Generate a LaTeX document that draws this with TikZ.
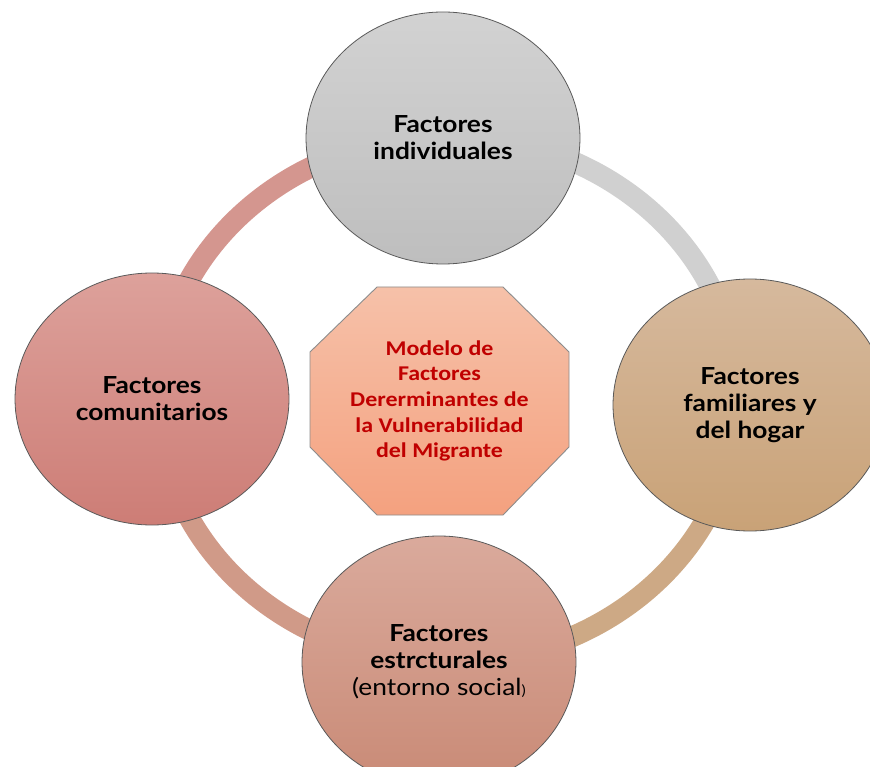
\documentclass[tikz,border=0pt]{standalone}
\usepackage{fontspec}
\setmainfont{Lato}
\newfontfamily\calib{Carlito}
\usetikzlibrary{shapes.geometric}
\definecolor{ringA}{HTML}{D4968F}
\definecolor{ringB}{HTML}{D0D0D0}
\definecolor{ringC}{HTML}{CDA985}
\definecolor{ringD}{HTML}{D09A88}
\definecolor{octred}{HTML}{C00000}
\definecolor{edge}{HTML}{5A5A5A}
\definecolor{octtop}{HTML}{F6C1A9}
\definecolor{octbot}{HTML}{F4A17F}
\tikzset{
  factor/.style={ellipse, draw=edge, line width=0.8pt, xscale=1.12, transform shape,
    minimum width=244.6pt, minimum height=252pt,
    align=center, inner sep=0pt, font=\bfseries\fontsize{23.5}{27}\selectfont},
  ringarc/.style={line width=21pt},
  octbox/.style={draw=black!45, line width=0.9pt, top color=octtop, bottom color=octbot},
  octtext/.style={align=center, text=octred, xscale=1.14, transform shape,
    font=\calib\bfseries\fontsize{21}{25.7}\selectfont},
}
\begin{document}
\begin{tikzpicture}[x=1pt,y=-1pt]
\useasboundingbox (0,0) rectangle (870,767);
\fill[white] (0,0) rectangle (870,767);
\clip (0,0) rectangle (870,767);
\coordinate (ringc) at (448,399);
% ring segments
\draw[ringarc, ringA] (ringc) ++(180:290 and 263) arc[start angle=180, end angle=270, x radius=290, y radius=263];
\draw[ringarc, ringB] (ringc) ++(270:290 and 263) arc[start angle=270, end angle=360, x radius=290, y radius=263];
\draw[ringarc, ringC] (ringc) ++(0:290 and 263) arc[start angle=0, end angle=90, x radius=290, y radius=263];
\draw[ringarc, ringD] (ringc) ++(90:290 and 263) arc[start angle=90, end angle=180, x radius=290, y radius=263];
% factor nodes
\node[factor, top color={rgb,255:red,210;green,210;blue,210}, bottom color={rgb,255:red,190;green,190;blue,190}] (top) at (443,138) {Factores\\individuales};
\node[factor, top color={rgb,255:red,221;green,161;blue,155}, bottom color={rgb,255:red,205;green,125;blue,118}] (left) at (152,399) {Factores\\comunitarios};
\node[factor, top color={rgb,255:red,214;green,185;blue,157}, bottom color={rgb,255:red,201;green,162;blue,119}] (right) at (750,405) {Factores\\familiares y\\del hogar};
\node[factor, top color={rgb,255:red,218;green,170;blue,156}, bottom color={rgb,255:red,201;green,138;blue,118}] (bottom) at (439,662) {Factores\\estrcturales\\{\mdseries(entorno social{\fontsize{14}{14}\selectfont)}}};
% central octagon
\path[octbox] (310,352) -- (377,287) -- (503,287) -- (569,352) -- (569,447) -- (503,515) -- (377,515) -- (310,447) -- cycle;
\node[octtext] (center) at (439.5,401) {Modelo de\\Factores\\Dererminantes de\\la Vulnerabilidad\\del Migrante};
\end{tikzpicture}
\end{document}
